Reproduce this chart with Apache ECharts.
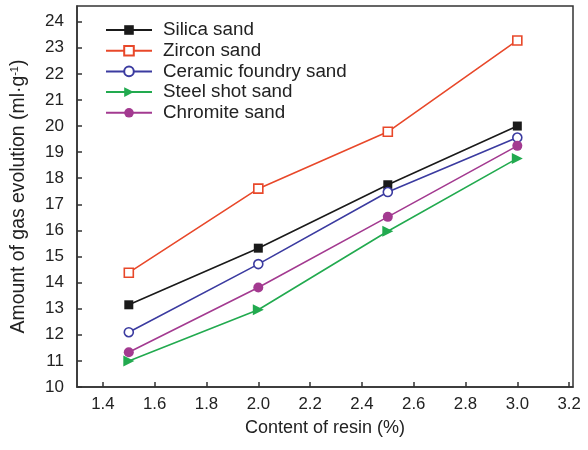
<!DOCTYPE html>
<html><head><meta charset="utf-8">
<script src="https://cdn.jsdelivr.net/npm/echarts@6/dist/echarts.min.js"></script>
<style>html,body{margin:0;padding:0;background:#fff}#c{width:588px;height:450px}</style>
</head><body><div id="c"></div>
<script>
const resin = [1.5, 2.0, 2.5, 3.0];
const silica = [13.15, 15.32, 17.75, 20.0];
const zircon = [14.38, 17.6, 19.78, 23.28];
const ceramic = [12.1, 14.71, 17.47, 19.56];
const steel = [11.0, 12.96, 15.97, 18.76];
const chromite = [11.33, 13.81, 16.52, 19.24];
const xTicks = [1.4, 1.6, 1.8, 2.0, 2.2, 2.4, 2.6, 2.8, 3.0, 3.2];
const yTicks = [10, 11, 12, 13, 14, 15, 16, 17, 18, 19, 20, 21, 22, 23, 24];

const FONT = 'Liberation Sans';
const TXT = '#222';
function pts(v){ return resin.map((x,i)=>[x, v[i]]); }
function ser(name, data, color, symbol, size, filled, rot){
  return {
    name, type:'line', data: pts(data), symbol, symbolSize: size, symbolRotate: rot||0,
    lineStyle:{color, width:1.6}, itemStyle:{color: filled?color:'#fff', borderColor: color, borderWidth: filled?0:1.6},
    color: color, z: 3
  };
}
const chart = echarts.init(document.getElementById('c'), null, {renderer:'canvas'});
chart.setOption({
  animation:false,
  textStyle:{fontFamily:FONT},
  grid:{left:77, right:15, top:6, bottom:63, show:true, borderColor:'#333', borderWidth:1.5, backgroundColor:'transparent'},
  legend:{
    orient:'vertical', left:105, top:20, padding:0, itemWidth:46, itemHeight:12, itemGap:0.7,
    textStyle:{fontSize:18.8, color:TXT, fontFamily:FONT, lineHeight:20, padding:[0,0,0,6]},
    data:['Silica sand','Zircon sand','Ceramic foundry sand','Steel shot sand','Chromite sand']
  },
  xAxis:{
    type:'value', min:1.3, max:3.215,
    name:'Content of resin (%)', nameLocation:'middle', nameGap:32,
    nameTextStyle:{fontSize:18, color:TXT, fontFamily:FONT},
    axisLine:{show:true, onZero:false, lineStyle:{color:'#333', width:1.5}},
    axisTick:{show:true, inside:true, length:5, customValues:xTicks, lineStyle:{color:'#333', width:1.5}},
    axisLabel:{customValues:xTicks, fontSize:16.8, color:TXT, margin:9, fontFamily:FONT, formatter:v=>v.toFixed(1)},
    splitLine:{show:false}
  },
  yAxis:{
    type:'value', min:10, max:24.6,
    name:'{a|Amount of gas evolution (ml·g}{s|-1}{a|)}', nameLocation:'middle', nameGap:48,
    nameTextStyle:{fontSize:19.4, color:TXT, fontFamily:FONT,
      rich:{a:{fontSize:19.4, color:TXT, fontFamily:FONT}, s:{fontSize:11, color:TXT, fontFamily:FONT, verticalAlign:'top', padding:[0,0,9,0]}}},
    axisLine:{show:true, onZero:false, lineStyle:{color:'#333', width:1.5}},
    axisTick:{show:true, inside:true, length:5, customValues:yTicks, lineStyle:{color:'#333', width:1.5}},
    axisLabel:{customValues:yTicks, fontSize:17, color:TXT, margin:13, fontFamily:FONT},
    splitLine:{show:false}
  },
  series:[
    ser('Silica sand', silica, '#1a1a1a', 'rect', 9, true),
    ser('Zircon sand', zircon, '#e8482a', 'rect', 9, false),
    ser('Ceramic foundry sand', ceramic, '#3b3ba0', 'circle', 9, false),
    ser('Steel shot sand', steel, '#22aa4f', 'triangle', 11, true, -90),
    ser('Chromite sand', chromite, '#a33a90', 'circle', 10, true)
  ]
});
</script></body></html>
